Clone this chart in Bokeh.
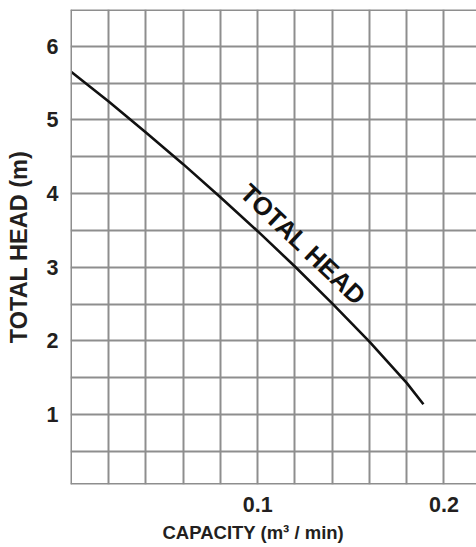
from bokeh.plotting import figure
from bokeh.models import FixedTicker, Range1d, Title, Span
from bokeh.core.properties import value
from bokeh.embed import file_html
from bokeh.resources import INLINE

# Data
capacity = [0.0, 0.02, 0.04, 0.06, 0.08, 0.10, 0.12, 0.14, 0.16, 0.18, 0.189]
total_head = [5.65, 5.25, 4.83, 4.40, 3.95, 3.49, 3.01, 2.51, 1.99, 1.43, 1.14]

x_ticks = [0.1, 0.2]
y_ticks = [1, 2, 3, 4, 5, 6]
x_grid = [0.02, 0.04, 0.06, 0.08, 0.10, 0.12, 0.14, 0.16, 0.18, 0.20]
y_grid = [0.5, 1.0, 1.5, 2.0, 2.5, 3.0, 3.5, 4.0, 4.5, 5.0, 5.5, 6.0]

curve_label = ["TOTAL HEAD"]
curve_label_x = [0.1245]
curve_label_y = [3.31]

X_MIN, X_MAX = -0.0005, 0.2175
Y_MIN, Y_MAX = 0.05, 6.5

FONT = "Liberation Sans"
TXT = "#231f20"
GRID = "#8e8e8e"

p = figure(width=476, height=547, output_backend="svg", toolbar_location=None,
           x_range=Range1d(X_MIN, X_MAX), y_range=Range1d(Y_MIN, Y_MAX),
           min_border_left=70, min_border_right=0, min_border_top=9, min_border_bottom=62)

p.background_fill_color = "white"
p.border_fill_color = "white"
p.outline_line_color = None

# frame borders: left, top, bottom (right side is cut off in the reference)
p.add_layout(Span(location=X_MIN, dimension="height", line_color=GRID, line_width=3))
p.add_layout(Span(location=Y_MAX, dimension="width", line_color=GRID, line_width=3))
p.add_layout(Span(location=Y_MIN, dimension="width", line_color=GRID, line_width=3))

p.xaxis.ticker = FixedTicker(ticks=x_ticks)
p.yaxis.ticker = FixedTicker(ticks=y_ticks)
p.xgrid.ticker = FixedTicker(ticks=x_grid)
p.ygrid.ticker = FixedTicker(ticks=y_grid)
for g in (p.xgrid, p.ygrid):
    g.grid_line_color = GRID
    g.grid_line_width = 2
    g.grid_line_alpha = 1

for ax in (p.xaxis, p.yaxis):
    ax.axis_line_color = None
    ax.major_tick_line_color = None
    ax.minor_tick_line_color = None
    ax.major_label_text_font = FONT
    ax.major_label_text_font_style = "bold"
    ax.major_label_text_font_size = "21.5px"
    ax.major_label_text_color = TXT

p.xaxis.major_label_standoff = 6
p.yaxis.major_label_standoff = 6

p.yaxis.axis_label = "TOTAL HEAD (m)"
p.yaxis.axis_label_text_font = FONT
p.yaxis.axis_label_text_font_style = "bold"
p.yaxis.axis_label_text_font_size = "23.5px"
p.yaxis.axis_label_text_color = TXT
p.yaxis.axis_label_standoff = 12

xt = Title(text="CAPACITY (m³ / min)", align="left", offset=92, standoff=10,
           text_font=FONT, text_font_style="bold", text_font_size="18.5px",
           text_color=TXT)
p.add_layout(xt, "below")

p.line(capacity, total_head, line_color="#111111", line_width=2.6)

p.text(x=curve_label_x, y=curve_label_y, text=curve_label, angle=-0.761,
       text_align="center", text_baseline="middle",
       text_font=value(FONT), text_font_style="bold", text_font_size="25.5px",
       text_color="#111111")

open("out.html", "w").write(file_html(p, INLINE))
